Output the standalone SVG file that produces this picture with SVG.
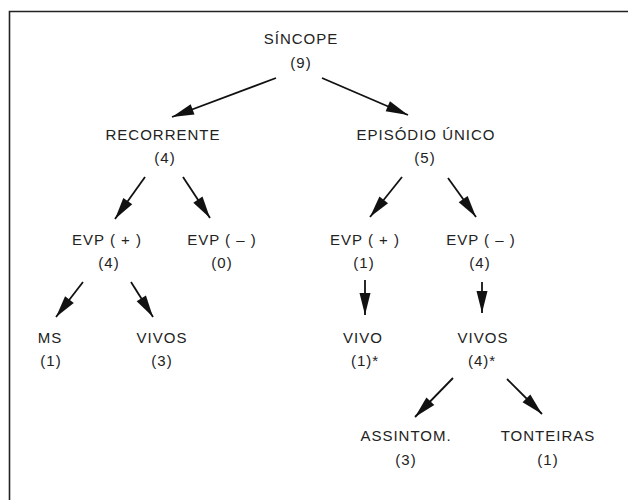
<svg xmlns="http://www.w3.org/2000/svg" width="628" height="500" viewBox="0 0 628 500">
<defs>
<marker id="ah" markerUnits="userSpaceOnUse" markerWidth="24" markerHeight="12" refX="22" refY="6" orient="auto" overflow="visible">
<path d="M0,0.5 L22,6 L0,11.5 Z" fill="#111" stroke="none"/>
</marker>
<style>
text{font-family:"Liberation Sans",Arial,Helvetica,sans-serif;font-size:15px;fill:#222;text-anchor:middle;letter-spacing:1px}
.c line{stroke:#111;stroke-width:1.8;fill:none;marker-end:url(#ah)}
</style>
</defs>
<rect width="628" height="500" fill="#fff"/>
<path d="M9.5,500 V11.5 H628" fill="none" stroke="#222" stroke-width="1.6"/>
<g id="sincope"><text x="301" y="44">SÍNCOPE</text><text x="301" y="68">(9)</text></g>
<g id="recorrente"><text x="163" y="140">RECORRENTE</text><text x="165" y="163">(4)</text></g>
<g id="episodio"><text x="426" y="140">EPISÓDIO ÚNICO</text><text x="425" y="163">(5)</text></g>
<g id="evp-pos-r"><text x="107" y="245">EVP ( + )</text><text x="109" y="268">(4)</text></g>
<g id="evp-neg-r"><text x="222" y="245">EVP ( – )</text><text x="222" y="268">(0)</text></g>
<g id="evp-pos-e"><text x="365" y="245">EVP ( + )</text><text x="364" y="268">(1)</text></g>
<g id="evp-neg-e"><text x="481" y="245">EVP ( – )</text><text x="480" y="268">(4)</text></g>
<g id="ms"><text x="50" y="343">MS</text><text x="51" y="366">(1)</text></g>
<g id="vivos-r"><text x="162" y="343">VIVOS</text><text x="162" y="366">(3)</text></g>
<g id="vivo-e"><text x="363" y="343">VIVO</text><text x="365" y="366">(1)*</text></g>
<g id="vivos-e"><text x="483" y="343">VIVOS</text><text x="482" y="366">(4)*</text></g>
<g id="assintom"><text x="406" y="441">ASSINTOM.</text><text x="406" y="465">(3)</text></g>
<g id="tonteiras"><text x="548" y="441">TONTEIRAS</text><text x="548" y="465">(1)</text></g>
<g id="connectors" class="c">
<line x1="276" y1="78" x2="172" y2="117"/>
<line x1="322" y1="78" x2="408" y2="115"/>
<line x1="145" y1="177" x2="115" y2="219"/>
<line x1="183" y1="177" x2="210" y2="218"/>
<line x1="402" y1="177" x2="370" y2="217"/>
<line x1="448" y1="178" x2="476" y2="217"/>
<line x1="83" y1="282" x2="56" y2="317"/>
<line x1="131" y1="282" x2="153" y2="317"/>
<line x1="365" y1="280" x2="365" y2="315"/>
<line x1="482" y1="282" x2="482" y2="313"/>
<line x1="453" y1="378" x2="415" y2="417"/>
<line x1="507" y1="379" x2="542" y2="414"/>
</g>
</svg>
